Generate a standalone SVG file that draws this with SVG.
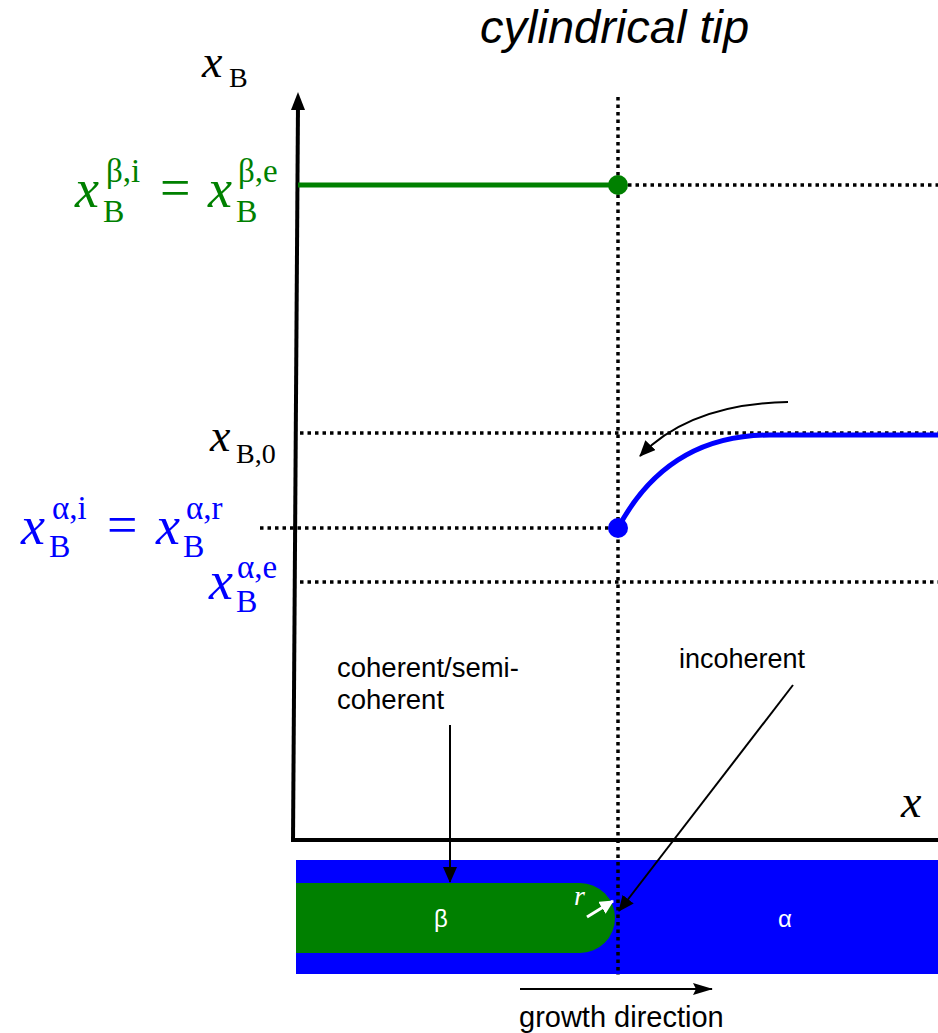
<svg xmlns="http://www.w3.org/2000/svg" width="938" height="1033" viewBox="0 0 938 1033">
<style>
.sans{font-family:"Liberation Sans",Arial,sans-serif;fill:#000}
.m{font-family:"Liberation Serif","Times New Roman",serif}
.mi{font-family:"Liberation Serif","Times New Roman",serif;font-style:italic}
.dot{stroke:#000;stroke-width:3.5;stroke-dasharray:3.5 4;fill:none}
.conn{stroke:#000;stroke-width:2;fill:none}
.g{fill:#008000}
.b{fill:#0000FF}
</style>
<defs>
<marker id="ahb" markerWidth="16" markerHeight="14" refX="15" refY="7" orient="auto" markerUnits="userSpaceOnUse" viewBox="0 0 16 14">
<path d="M0,0 L16,7 L0,14 z" fill="#000"/>
</marker>
<marker id="ahw" markerWidth="14" markerHeight="14" refX="13" refY="7" orient="auto" markerUnits="userSpaceOnUse" viewBox="0 0 14 14">
<path d="M0,0 L14,7 L0,14 z" fill="#fff"/>
</marker>
<marker id="ahg" markerWidth="20" markerHeight="12" refX="19" refY="6" orient="auto" markerUnits="userSpaceOnUse" viewBox="0 0 20 12">
<path d="M0,0 L20,6 L0,12 L3,6 z" fill="#000"/>
</marker>
</defs>

<g id="title">
<text class="sans" x="480" y="43" font-size="47" font-style="italic">cylindrical tip</text>
</g>

<g id="strip">
<rect x="296" y="860" width="642" height="114" fill="#0000FF"/>
<path d="M296,883 H580 A35,35 0 0 1 580,953 H296 Z" fill="#008000"/>
<text x="441" y="927" font-size="24" fill="#fff" text-anchor="middle" font-family="Liberation Sans, Arial, sans-serif">β</text>
<text x="785" y="927" font-size="24" fill="#fff" text-anchor="middle" font-family="Liberation Sans, Arial, sans-serif">α</text>
<text class="mi" x="574" y="905" font-size="28" fill="#fff">r</text>
<line x1="587" y1="917" x2="613" y2="901" stroke="#fff" stroke-width="3" marker-end="url(#ahw)"/>
</g>

<g id="guides">
<line class="dot" x1="618" y1="97" x2="618" y2="975"/>
<line class="dot" x1="628" y1="185" x2="938" y2="185"/>
<line class="dot" x1="300" y1="433" x2="938" y2="433"/>
<line class="dot" x1="260" y1="528" x2="618" y2="528"/>
<line class="dot" x1="300" y1="582" x2="938" y2="582"/>
</g>

<g id="axes">
<line x1="298" y1="104" x2="293" y2="842" stroke="#000" stroke-width="4"/>
<path d="M298,92 L291,110 L305,110 Z" fill="#000"/>
<line x1="291" y1="840" x2="938" y2="840" stroke="#000" stroke-width="4"/>
<text class="mi" x="901" y="817" font-size="46">x</text>
<text class="mi" x="202" y="77" font-size="46">x</text>
<text class="m" x="229" y="87" font-size="28">B</text>
</g>

<g id="beta-line">
<line x1="298" y1="185" x2="618" y2="185" stroke="#008000" stroke-width="5"/>
<circle cx="618" cy="185" r="10" fill="#008000"/>
<g class="g">
<text class="mi" x="75" y="207" font-size="54">x</text>
<text class="m" x="103" y="222" font-size="32">B</text>
<text class="m" x="106" y="182" font-size="33">β,i</text>
<text class="m" x="160" y="206" font-size="54">=</text>
<text class="mi" x="208" y="207" font-size="54">x</text>
<text class="m" x="236" y="222" font-size="32">B</text>
<text class="m" x="238" y="182" font-size="33">β,e</text>
</g>
</g>

<g id="alpha-curve">
<path d="M618,528 C650,468 700,435 770,435 L938,435" stroke="#0000FF" stroke-width="5" fill="none"/>
<circle cx="618" cy="528" r="10" fill="#0000FF"/>
<g class="b">
<text class="mi" x="21" y="544" font-size="54">x</text>
<text class="m" x="49" y="557" font-size="32">B</text>
<text class="m" x="52" y="519" font-size="33">α,i</text>
<text class="m" x="107" y="543" font-size="54">=</text>
<text class="mi" x="156" y="544" font-size="54">x</text>
<text class="m" x="183" y="557" font-size="32">B</text>
<text class="m" x="186" y="519" font-size="33">α,r</text>
<text class="mi" x="209" y="599" font-size="54">x</text>
<text class="m" x="236" y="612" font-size="32">B</text>
<text class="m" x="237" y="578" font-size="33">α,e</text>
</g>
</g>

<g id="xB0-label">
<text class="mi" x="210" y="451" font-size="46">x</text>
<text class="m" x="236" y="463" font-size="28">B,0</text>
</g>

<g id="coherent-label">
<text class="sans" x="337" y="677" font-size="27.5">coherent/semi-</text>
<text class="sans" x="337" y="709" font-size="27.5">coherent</text>
</g>

<g id="incoherent-label">
<text class="sans" x="679" y="668" font-size="27">incoherent</text>
</g>

<g id="growth-label">
<text class="sans" x="519" y="1027" font-size="29">growth direction</text>
</g>

<g id="connectors">
<path class="conn" d="M788,402 Q690,404 640,456" marker-end="url(#ahb)"/>
<line class="conn" x1="450" y1="725" x2="450" y2="882" marker-end="url(#ahb)"/>
<line class="conn" x1="793" y1="685" x2="619" y2="911" marker-end="url(#ahb)"/>
<line class="conn" x1="520" y1="989" x2="712" y2="989" marker-end="url(#ahg)"/>
</g>
</svg>
